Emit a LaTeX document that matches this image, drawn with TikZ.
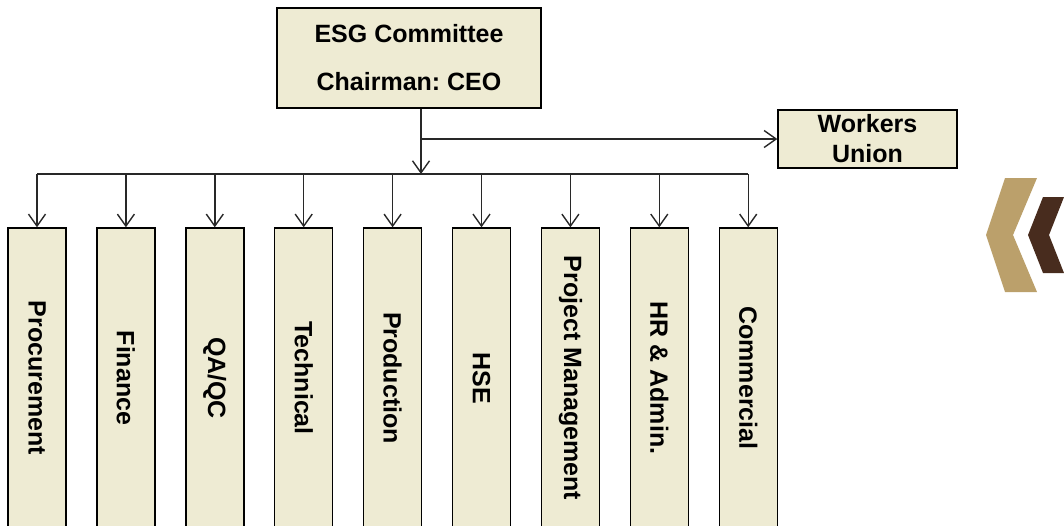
\documentclass[tikz,border=0pt]{standalone}
\usepackage{fontspec}
\setmainfont{Liberation Sans}
\usetikzlibrary{arrows.meta,positioning}
\definecolor{boxfill}{RGB}{238,235,211}
\definecolor{linegray}{RGB}{40,40,40}
\definecolor{chevgold}{RGB}{187,160,107}
\definecolor{chevbrown}{RGB}{72,44,30}
\newcommand{\DeptT}[1]{\rotatebox{-90}{#1}}
\frenchspacing

\begin{document}
\begin{tikzpicture}[x=1pt,y=-1pt]
          \tikzstyle{boxs} = [draw=black, fill=boxfill, line width=1.4pt, inner sep=0pt,
            font=\bfseries\fontsize{25}{30}\selectfont]
          \tikzstyle{dept} = [boxs, minimum width=58pt, minimum height=300pt,
            font=\bfseries\fontsize{25}{28}\selectfont]
          \tikzstyle{line} = [draw=linegray,->,line width=1.4pt]
          \tikzstyle{lineR} = [draw=linegray,<-,line width=1.4pt]
          \tikzset{>={Straight Barb[length=12pt,width=17pt]}}

          \useasboundingbox (0,0) rectangle (1064,525);
          \clip (0,0) rectangle (1064,525);

          \node(ESG)[boxs, minimum width=264pt, minimum height=100pt, align=center] at (409,58)
            {ESG Committee\\[18pt]Chairman: CEO};
          \node(Workers)[boxs, minimum width=179pt, minimum height=58pt, align=center] at (867.5,139)
            {Workers\\Union};

          \coordinate(bus) at (421,174);
          \coordinate(branch) at (bus |- Workers.west);

          \tikzset{node distance = 88.9pt}
          \node(Procurement)[dept] at (37,378){\DeptT{Procurement}} edge[lineR] (Procurement |- bus);
          \node(Finance)[dept, right of = Procurement]{\DeptT{Finance}} edge[lineR] (Finance |- bus);
          \node(QAQC)[dept, right of = Finance]{\DeptT{QA/QC}} edge[lineR] (QAQC |- bus);
          \node(Technical)[dept, right of = QAQC]{\DeptT{Technical}} edge[lineR] (Technical |- bus);
          \node(Production)[dept, right of = Technical]{\DeptT{Production}} edge[lineR] (Production |- bus);
          \node(HSE)[dept, right of = Production]{\DeptT{HSE}} edge[lineR] (HSE |- bus);
          \node(ProjectManagement)[dept, right of = HSE]{\DeptT{Project Management}} edge[lineR] (ProjectManagement |- bus);
          \node(HRAdmin)[dept, right of = ProjectManagement]{\DeptT{HR \& Admin.}} edge[lineR] (HRAdmin |- bus);
          \node(Commercial)[dept, right of = HRAdmin]{\DeptT{Commercial}} edge[lineR] (Commercial |- bus);

          \draw[draw=linegray, line width=1.4pt] (Procurement |- bus) -- (Commercial |- bus);
          \draw[line] (ESG.south -| bus) -- (bus);
          \draw[line] (branch) -- (Workers.west);

          % chevrons
          \fill[chevgold] (1005,178) -- (1037,178) -- (1013,235) -- (1037,292) -- (1005,292) -- (986,235) -- cycle;
          \fill[chevbrown] (1043,197) -- (1064,197) -- (1049,235) -- (1064,273) -- (1043,273) -- (1028,235) -- cycle;
\end{tikzpicture}
\end{document}
